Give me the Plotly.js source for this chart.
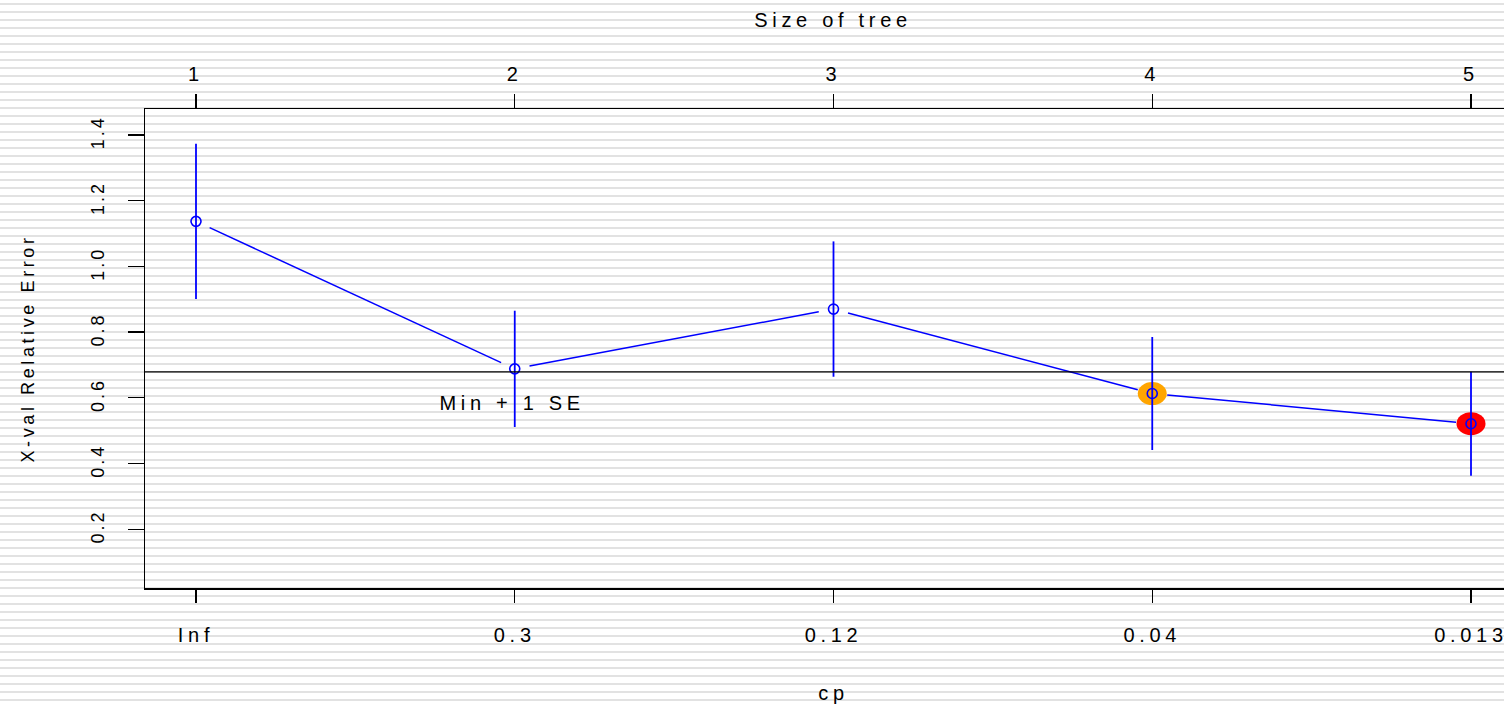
<!DOCTYPE html>
<html>
<head>
<meta charset="utf-8">
<script src="https://cdn.plot.ly/plotly-3.0.1.min.js"></script>
<style>
html, body { margin: 0; padding: 0; width: 1504px; height: 704px; overflow: hidden;
  background: repeating-linear-gradient(to bottom, #ffffff 0px, #ffffff 3px, #e2e2e2 3px, #e2e2e2 5.5px, #ffffff 5.5px, #ffffff 8px); }
#chart { width: 1540px; height: 704px; }
.main-svg text { letter-spacing: 4.7px; }
.main-svg .ytick text { letter-spacing: 3px; }
.main-svg .ytitle { letter-spacing: 3.6px; }
</style>
</head>
<body>
<div id="chart"></div>
<script>
// ---- data ----
const treeSize = [1, 2, 3, 4, 5];
const cpLabels = ['Inf', '0.3', '0.12', '0.04', '0.013'];
const xerror = [1.137, 0.688, 0.870, 0.613, 0.521];
const xstd = [0.236, 0.177, 0.206, 0.172, 0.158];
const highlightIdx = [3, 4];
const highlightColors = ['#FFA500', '#FF0000'];
const yTicks = [0.2, 0.4, 0.6, 0.8, 1.0, 1.2, 1.4];

// ---- layout geometry ----
const W = 1540, H = 704;
const M = {l: 145, r: 18, t: 109, b: 116};
const xRange = [0.84, 5.16];
const yRange = [0.021, 1.479];
const pxX = (W - M.l - M.r) / (xRange[1] - xRange[0]);
const pxY = (H - M.t - M.b) / (yRange[1] - yRange[0]);

// min + 1 SE
let iMin = 0;
xerror.forEach((v, i) => { if (v < xerror[iMin]) iMin = i; });
const minSE = xerror[iMin] + xstd[iMin];

const traces = [];
// connecting segments with gaps around the points (type="b")
const gap = 15;
for (let i = 0; i < treeSize.length - 1; i++) {
  const dx = (treeSize[i + 1] - treeSize[i]) * pxX;
  const dy = (xerror[i + 1] - xerror[i]) * pxY;
  const len = Math.sqrt(dx * dx + dy * dy);
  const f = gap / len;
  const xa = treeSize[i] + (treeSize[i + 1] - treeSize[i]) * f;
  const ya = xerror[i] + (xerror[i + 1] - xerror[i]) * f;
  const xb = treeSize[i + 1] - (treeSize[i + 1] - treeSize[i]) * f;
  const yb = xerror[i + 1] - (xerror[i + 1] - xerror[i]) * f;
  traces.push({x: [xa, xb], y: [ya, yb], mode: 'lines', type: 'scatter',
    hoverinfo: 'skip', showlegend: false, line: {color: '#0000FF', width: 1.5}});
}
// points with error bars
traces.push({
  x: treeSize, y: xerror, mode: 'markers', type: 'scatter', showlegend: false,
  marker: {symbol: 'circle-open', size: 10, color: '#0000FF', line: {width: 1.6, color: '#0000FF'}},
  error_y: {type: 'data', array: xstd, symmetric: true, color: '#0000FF', thickness: 1.8, width: 0}
});
// invisible trace for top axis
traces.push({x: treeSize, y: xerror, xaxis: 'x2', mode: 'markers', type: 'scatter',
  marker: {opacity: 0}, hoverinfo: 'skip', showlegend: false});

// highlight ellipses (pixel-sized, anchored at data points)
const highlightShapes = highlightIdx.map((idx, k) => ({
  type: 'circle', layer: 'below',
  xref: 'x', yref: 'y', xsizemode: 'pixel', ysizemode: 'pixel',
  xanchor: treeSize[idx], yanchor: xerror[idx],
  x0: -14.5, x1: 14.5, y0: -11.5, y1: 11.5,
  fillcolor: highlightColors[k], line: {width: 0}
}));

const fontFam = '"Liberation Sans", Arial, Helvetica, sans-serif';
const layout = {
  width: W, height: H,
  margin: M,
  paper_bgcolor: 'rgba(0,0,0,0)', plot_bgcolor: 'rgba(0,0,0,0)',
  showlegend: false,
  font: {family: fontFam, size: 20, color: '#000'},
  title: {text: 'Size of tree', x: 833 / W, xref: 'container', xanchor: 'center',
    y: 1 - 20 / H, yanchor: 'middle', font: {family: fontFam, size: 20, color: '#000'}},
  xaxis: {
    range: xRange, showgrid: false, zeroline: false,
    tickmode: 'array', tickvals: treeSize, ticktext: cpLabels,
    ticks: 'outside', ticklen: 13, tickwidth: 1.3, tickcolor: '#000',
    showline: true, linecolor: '#000', linewidth: 1.5, mirror: true,
    ticklabelstandoff: 15, tickfont: {size: 20},
    title: {text: 'cp', standoff: 42, font: {family: fontFam, size: 20}}
  },
  xaxis2: {
    range: xRange, overlaying: 'x', side: 'top', showgrid: false, zeroline: false,
    tickmode: 'array', tickvals: treeSize, ticktext: treeSize.map(String),
    ticks: 'outside', ticklen: 14, tickwidth: 1.3, tickcolor: '#000',
    showline: false, ticklabelstandoff: 5, tickfont: {size: 20}
  },
  yaxis: {
    range: yRange, showgrid: false, zeroline: false,
    tickmode: 'array', tickvals: yTicks,
    ticktext: yTicks.map(v => v.toFixed(1)),
    tickangle: -90, tickfont: {size: 18},
    ticks: 'outside', ticklen: 16, tickwidth: 1.3, tickcolor: '#000',
    showline: true, linecolor: '#000', linewidth: 1.5, mirror: true,
    ticklabelstandoff: 16,
    title: {text: 'X-val Relative Error', standoff: 49, font: {family: fontFam, size: 18}}
  },
  shapes: [{type: 'line', xref: 'paper', x0: 0, x1: 1, yref: 'y', y0: minSE, y1: minSE,
    line: {color: '#000', width: 1.3}}].concat(highlightShapes),
  annotations: [{text: 'Min + 1 SE', xref: 'x', x: treeSize[1] - 0.01, yref: 'y', y: minSE,
    yshift: -31, showarrow: false, xanchor: 'center', yanchor: 'middle',
    font: {family: fontFam, size: 20, color: '#000'}}]
};

Plotly.newPlot('chart', traces, layout, {displayModeBar: false, staticPlot: true});
</script>
</body>
</html>
